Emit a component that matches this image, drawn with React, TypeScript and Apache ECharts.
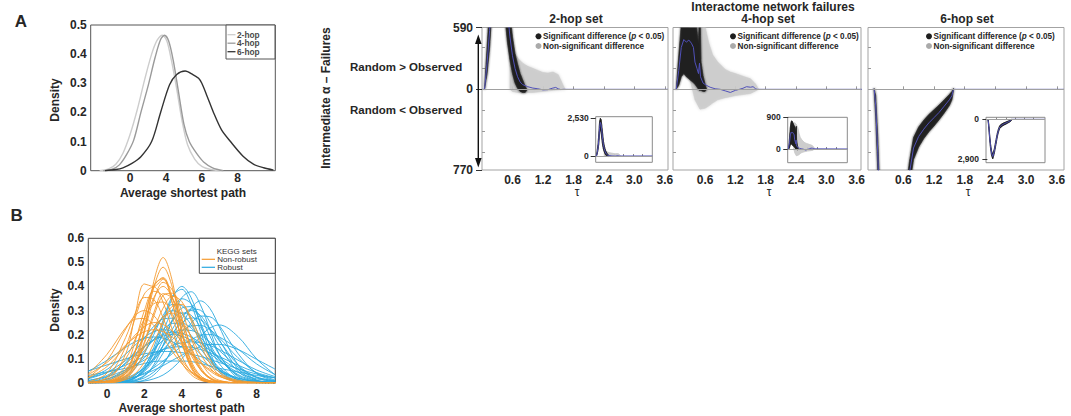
import React, { useEffect, useRef } from 'react';
import * as echarts from 'echarts';

const FONT = '"Liberation Sans", Arial, Helvetica, sans-serif';
const INK = '#262626';

// ---------- Panel A: average shortest path density per hop set ----------
const twoHopDensity = [
  [0.3, 0], [0.8, 0.006], [1.2, 0.022], [1.6, 0.06], [2.0, 0.125], [2.4, 0.21], [2.8, 0.31],
  [3.2, 0.4], [3.5, 0.447], [3.8, 0.465], [4.05, 0.445], [4.3, 0.38], [4.6, 0.28], [4.9, 0.17],
  [5.2, 0.09], [5.6, 0.04], [6.0, 0.015], [6.5, 0.004], [7.0, 0],
];
const fourHopDensity = [
  [0.5, 0], [1.0, 0.005], [1.4, 0.02], [1.8, 0.055], [2.2, 0.105], [2.6, 0.2], [3.0, 0.29],
  [3.4, 0.39], [3.7, 0.45], [3.92, 0.465], [4.15, 0.445], [4.4, 0.38], [4.7, 0.27], [5.0, 0.16],
  [5.3, 0.1], [5.7, 0.06], [6.1, 0.03], [6.6, 0.01], [7.2, 0],
];
const sixHopDensity = [
  [0.6, 0], [1.2, 0.004], [1.6, 0.01], [2.1, 0.025], [2.6, 0.048], [3.2, 0.1], [3.7, 0.2],
  [4.2, 0.295], [4.6, 0.33], [5.07, 0.342], [5.5, 0.33], [5.82, 0.317], [6.0, 0.3], [6.3, 0.255],
  [6.65, 0.2], [7.1, 0.14], [7.6, 0.1], [8.3, 0.05], [8.9, 0.022], [9.45, 0.01], [10.0, 0.002],
];
const hopNames = ['2-hop', '4-hop', '6-hop'];
const hopColors = ['#cdcdcd', '#9a9a9a', '#333333'];
const aXTickValues = [2, 4, 6, 8];
const aXTickLabels = ['0', '4', '6', '8'];

// ---------- Panel B: KEGG set densities, sampled at these path lengths ----------
const pathPoints = [-1, 0, 1, 1.5, 2, 2.5, 3, 3.5, 4, 4.5, 5, 5.5, 6, 7, 8, 9];
const nonRobustSets = [
  [0, 0, .015, .07, .21, .42, .52, .42, .21, .07, .015, .002, 0, 0, 0, 0],
  [0, .001, .021, .083, .22, .395, .48, .395, .22, .083, .021, .004, 0, 0, 0, 0],
  [0, .002, .048, .131, .267, .399, .437, .352, .209, .091, .029, .007, .001, 0, 0, 0],
  [0, .01, .12, .28, .41, .40, .43, .33, .17, .06, .015, .003, 0, 0, 0, 0],
  [.001, .022, .15, .267, .369, .398, .334, .218, .111, .044, .014, .003, .001, 0, 0, 0],
  [0, .002, .027, .075, .163, .276, .363, .372, .298, .185, .09, .034, .01, 0, 0, 0],
  [0, .002, .022, .058, .125, .218, .31, .359, .337, .257, .16, .081, .033, .003, 0, 0],
  [.021, .092, .223, .279, .30, .279, .223, .154, .092, .047, .021, .008, .003, 0, 0, 0],
  [.001, .018, .10, .18, .267, .328, .335, .283, .197, .114, .054, .022, .007, 0, 0, 0],
  [0, .002, .037, .102, .215, .344, .417, .384, .268, .142, .057, .017, .004, 0, 0, 0],
  [.02, .067, .152, .198, .233, .25, .242, .214, .171, .124, .081, .049, .026, .006, .001, 0],
  [0, .005, .039, .083, .147, .219, .274, .289, .256, .191, .119, .063, .028, .003, 0, 0],
  [.003, .04, .188, .288, .354, .346, .269, .167, .083, .033, .01, .003, .001, 0, 0, 0],
  [0, .004, .054, .13, .243, .353, .40, .353, .243, .13, .054, .018, .004, 0, 0, 0],
  [.036, .118, .229, .264, .267, .238, .187, .129, .079, .042, .02, .008, .003, 0, 0, 0],
  [0, .001, .013, .037, .086, .164, .253, .318, .325, .27, .182, .10, .045, .005, 0, 0],
  [0, .002, .041, .125, .267, .404, .433, .328, .176, .067, .018, .003, 0, 0, 0, 0],
  [.033, .084, .156, .189, .212, .22, .212, .189, .156, .119, .084, .055, .033, .01, .002, 0],
  [0, .006, .07, .17, .30, .38, .36, .27, .16, .075, .028, .008, .002, 0, 0, 0],
  [0, .003, .03, .08, .17, .29, .37, .35, .26, .15, .065, .02, .005, 0, 0, 0],
];
const robustSets = [
  [0, 0, .004, .018, .054, .13, .243, .353, .40, .353, .243, .13, .054, .004, 0, 0],
  [0, 0, .002, .008, .028, .074, .156, .263, .353, .378, .323, .22, .119, .018, .001, 0],
  [0, 0, .001, .003, .011, .032, .075, .145, .233, .309, .34, .309, .233, .075, .011, .001],
  [0, .001, .008, .021, .047, .092, .154, .223, .279, .30, .279, .223, .154, .047, .008, .001],
  [.003, .015, .054, .089, .133, .18, .221, .246, .248, .227, .189, .142, .097, .034, .008, .001],
  [.003, .015, .045, .072, .104, .141, .176, .204, .219, .217, .199, .169, .134, .066, .024, .006],
  [.016, .043, .092, .121, .151, .176, .194, .20, .194, .176, .151, .121, .092, .043, .016, .005],
  [.001, .005, .02, .036, .062, .096, .137, .179, .215, .236, .238, .221, .187, .104, .041, .011],
  [0, 0, .001, .003, .007, .016, .032, .06, .099, .146, .192, .227, .24, .192, .099, .032],
  [.03, .045, .06, .07, .08, .088, .09, .09, .09, .088, .08, .07, .06, .045, .03, .02],
  [.02, .042, .073, .091, .109, .125, .138, .147, .15, .147, .138, .125, .109, .073, .042, .02],
  [.049, .074, .099, .111, .12, .126, .13, .129, .125, .118, .109, .097, .084, .058, .036, .02],
  [0, .001, .007, .021, .051, .104, .178, .256, .31, .316, .27, .194, .117, .026, .003, 0],
  [0, 0, .006, .022, .064, .146, .26, .36, .388, .326, .213, .108, .043, .003, 0, 0],
  [0, .002, .015, .032, .06, .101, .153, .206, .249, .269, .261, .225, .175, .075, .021, .004],
  [.001, .004, .014, .024, .04, .062, .09, .121, .152, .179, .196, .20, .19, .14, .078, .033],
  [.001, .009, .047, .089, .149, .215, .272, .299, .287, .24, .175, .112, .062, .013, .001, 0],
  [.047, .093, .147, .17, .185, .19, .185, .17, .147, .121, .093, .069, .047, .019, .006, .002],
  [0, .001, .007, .021, .056, .121, .212, .302, .349, .328, .25, .156, .079, .011, .001, 0],
  [0, .001, .003, .008, .02, .044, .081, .134, .194, .247, .277, .274, .238, .122, .038, .007],
  [.019, .055, .119, .156, .189, .212, .22, .212, .189, .156, .119, .084, .055, .019, .005, .001],
  [.01, .025, .053, .073, .094, .116, .138, .155, .166, .17, .166, .155, .138, .094, .053, .025],
  [0, .003, .026, .061, .121, .2, .279, .325, .32, .264, .183, .107, .052, .008, .001, 0],
  [.001, .005, .015, .024, .036, .052, .071, .093, .114, .134, .15, .159, .159, .138, .097, .056],
  [0, .001, .004, .012, .03, .066, .123, .196, .265, .306, .301, .253, .18, .057, .01, .001],
  [.004, .024, .083, .131, .185, .234, .265, .268, .242, .196, .142, .092, .053, .013, .002, 0],
  [.008, .03, .08, .115, .15, .18, .2, .21, .205, .19, .165, .135, .105, .055, .022, .008],
  [0, .002, .012, .03, .07, .13, .2, .26, .29, .28, .23, .16, .1, .03, .005, 0],
];
const bXTickValues = [0, 2, 4, 6, 8];
const nonRobustColor = '#f59a2e';
const robustColor = '#2aa9e0';

// ---------- Interactome failures: mean curve [tau, value], bands [tau, low, high] ----------
const tauTicks = [0.6, 1.2, 1.8, 2.4, 3.0, 3.6];
const mainYTicks = [-770, 0, 590];
const innerYTicks = [-600, -400, -200, 200, 400];

const twoHopMean = [
  [0, 0], [0.05, 0], [0.1, 250], [0.15, 560], [0.2, 1100], [0.25, 1900], [0.3, 2250], [0.35, 2100],
  [0.4, 1600], [0.45, 1100], [0.5, 750], [0.55, 500], [0.6, 320], [0.65, 200], [0.7, 120],
  [0.75, 70], [0.8, 45], [0.9, 25], [1.0, 12], [1.1, 5], [1.2, -5], [1.3, -3], [1.38, 10],
  [1.45, 18], [1.5, 5], [1.55, -2], [1.6, 0], [3.66, 0],
];
const twoHopSig = [
  [0.05, 0, 0], [0.1, 150, 400], [0.15, 400, 800], [0.2, 800, 1500], [0.25, 1500, 2300],
  [0.3, 1800, 2530], [0.35, 1600, 2450], [0.4, 1100, 2000], [0.45, 700, 1500], [0.5, 450, 1000],
  [0.55, 280, 720], [0.6, 150, 500], [0.65, 60, 340], [0.7, 10, 240], [0.75, -20, 150],
  [0.8, -30, 90], [0.85, -30, 30], [0.88, -10, 0],
];
const twoHopNonSig = [
  [0.55, 0, 300], [0.6, -20, 380], [0.7, -30, 300], [0.8, -35, 250], [0.9, -30, 220],
  [1.0, -30, 200], [1.1, -25, 180], [1.2, -20, 160], [1.3, -15, 155], [1.4, -10, 165],
  [1.5, -5, 140], [1.55, -3, 90], [1.6, 0, 35], [1.64, 0, 0],
];

const fourHopMean = [
  [0, 0], [0.03, 0], [0.08, 180], [0.13, 400], [0.18, 475], [0.23, 450], [0.28, 470], [0.33, 440],
  [0.37, 400], [0.4, 260], [0.44, 200], [0.47, 150], [0.49, 250], [0.51, 120], [0.56, 60],
  [0.62, 40], [0.7, 20], [0.8, 5], [0.9, 0], [1.0, -15], [1.1, -30], [1.2, -10], [1.28, 0],
  [1.35, 10], [1.42, 25], [1.5, 20], [1.55, 25], [1.6, 5], [1.63, 0], [3.7, 0],
];
const fourHopSig = [
  [0.03, 0, 0], [0.08, 40, 320], [0.13, 120, 620], [0.18, 150, 780], [0.23, 120, 800],
  [0.28, 100, 760], [0.33, 80, 700], [0.38, 60, 650], [0.43, 30, 600], [0.47, 0, 420],
  [0.485, -10, 640], [0.505, -10, 640], [0.52, -10, 260], [0.56, -20, 130], [0.6, -20, 50],
  [0.63, 0, 0],
];
const fourHopNonSig = [
  [0.3, 100, 650], [0.4, -100, 750], [0.5, -190, 700], [0.6, -180, 600], [0.67, -160, 450],
  [0.75, -130, 330], [0.85, -100, 260], [1.0, -80, 190], [1.1, -70, 165], [1.2, -60, 150],
  [1.35, -50, 125], [1.5, -40, 100], [1.6, -15, 50], [1.66, 0, 0],
];

const sixHopMean = [
  [0, 0], [0.03, 0], [0.06, -150], [0.1, -600], [0.15, -1300], [0.2, -1900], [0.27, -2450],
  [0.35, -2700], [0.45, -2300], [0.55, -1700], [0.65, -1100], [0.72, -800], [0.8, -560],
  [0.9, -450], [1.0, -380], [1.1, -320], [1.2, -270], [1.3, -220], [1.4, -160], [1.5, -100],
  [1.55, -60], [1.58, 0], [3.74, 0],
];
const sixHopSig = [
  [0.03, -10, 10], [0.06, -260, -60], [0.1, -760, -450], [0.15, -1470, -1140], [0.2, -2070, -1740],
  [0.27, -2620, -2290], [0.35, -2870, -2540], [0.45, -2470, -2140], [0.55, -1860, -1540],
  [0.65, -1240, -970], [0.72, -920, -690], [0.8, -670, -460], [0.9, -550, -360], [1.0, -470, -295],
  [1.1, -405, -240], [1.2, -350, -195], [1.3, -290, -150], [1.4, -225, -100], [1.5, -155, -50],
  [1.55, -100, -20], [1.58, -10, 10],
];
const sixHopNonSig: number[][] = [];

const failurePanels = [
  {
    title: '2-hop set', mean: twoHopMean, sig: twoHopSig, nonSig: twoHopNonSig,
    left: 482, width: 186, xMin: 0, xMax: 3.66, dotX: 538.5,
    inset: { left: 595.7, top: 116.7, width: 56.6, height: 45.6 }, insetMin: -423, insetMax: 2637,
    insetTicks: [0, 2530],
  },
  {
    title: '4-hop set', mean: fourHopMean, sig: fourHopSig, nonSig: fourHopNonSig,
    left: 673, width: 188, xMin: -0.034, xMax: 3.685, dotX: 733,
    inset: { left: 787.7, top: 117.3, width: 59.6, height: 45.4 }, insetMin: -389, insetMax: 900,
    insetTicks: [0, 900],
  },
  {
    title: '6-hop set', mean: sixHopMean, sig: sixHopSig, nonSig: sixHopNonSig,
    left: 868, width: 196, xMin: -0.09, xMax: 3.74, dotX: 929,
    inset: { left: 986, top: 117.3, width: 59, height: 45.4 }, insetMin: -3146, insetMax: 145,
    insetTicks: [-2900, 0],
  },
];
const MAIN_TOP = 27.5;
const MAIN_HEIGHT = 142.5;
const MAIN_MIN = -770;
const MAIN_MAX = 590;

const withCommas = (v: number) => String(Math.abs(v)).replace(/\B(?=(\d{3})+(?!\d))/g, ',');

const tickFont = { fontFamily: FONT, fontWeight: 'bold', fontSize: 12, color: INK };

function bandSeries(band: number[][], xIdx: number, yIdx: number, color: string, opacity: number, blur: number) {
  return {
    type: 'custom',
    xAxisIndex: xIdx,
    yAxisIndex: yIdx,
    clip: true,
    silent: true,
    z: 2,
    data: [[band.length ? band[0][0] : 0, 0]],
    renderItem: (_params: any, api: any) => {
      if (!band.length) return null;
      const pts: number[][] = [];
      band.forEach((p) => pts.push(api.coord([p[0], p[2]])));
      for (let i = band.length - 1; i >= 0; i--) pts.push(api.coord([band[i][0], band[i][1]]));
      return {
        type: 'polygon',
        shape: { points: pts },
        style: {
          fill: color, opacity, stroke: color, lineWidth: 0.6,
          shadowBlur: blur, shadowColor: color,
        },
      };
    },
  };
}

function meanSeries(mean: number[][], xIdx: number, yIdx: number) {
  return {
    type: 'line',
    xAxisIndex: xIdx,
    yAxisIndex: yIdx,
    data: mean,
    showSymbol: false,
    symbol: 'none',
    clip: true,
    silent: true,
    z: 4,
    lineStyle: { color: '#5050b8', width: 1 },
    markLine: {
      silent: true,
      symbol: ['none', 'none'],
      label: { show: false },
      lineStyle: { color: '#a0a0a0', width: 1, type: 'solid' },
      data: [{ yAxis: 0 }],
    },
  };
}

function buildOption() {
  const grids: any[] = [
    { left: 90.7, top: 25, width: 184.6, height: 145.7, show: true, borderColor: '#555', borderWidth: 1 },
    { left: 88.3, top: 238.3, width: 187, height: 144.4, show: true, borderColor: '#444', borderWidth: 1 },
  ];
  const xAxes: any[] = [
    {
      type: 'value', gridIndex: 0, min: -0.2, max: 10.1,
      axisLine: { show: false }, splitLine: { show: false },
      axisTick: { show: false },
      axisLabel: {
        ...tickFont, margin: 1, customValues: aXTickValues,
        formatter: (v: number) => aXTickLabels[aXTickValues.indexOf(v)] ?? '',
      },
    },
    {
      type: 'value', gridIndex: 1, min: -1, max: 9,
      axisLine: { show: false }, splitLine: { show: false },
      axisTick: { show: false },
      axisLabel: { ...tickFont, margin: 5, customValues: bXTickValues },
    },
  ];
  const yAxes: any[] = [
    {
      type: 'value', gridIndex: 0, min: 0, max: 0.5, interval: 0.1,
      axisLine: { show: false }, splitLine: { show: false }, axisTick: { show: false },
      axisLabel: { ...tickFont, margin: 4 },
    },
    {
      type: 'value', gridIndex: 1, min: 0, max: 0.6, interval: 0.1,
      axisLine: { show: false }, splitLine: { show: false }, axisTick: { show: false },
      axisLabel: { ...tickFont, margin: 4 },
    },
  ];
  const series: any[] = [];

  // Panel A curves
  [twoHopDensity, fourHopDensity, sixHopDensity].forEach((d, i) => {
    series.push({
      type: 'line', name: hopNames[i], xAxisIndex: 0, yAxisIndex: 0, data: d,
      smooth: 0.3, showSymbol: false, symbol: 'none', silent: true,
      lineStyle: { color: hopColors[i], width: 1.4 },
    });
  });

  // Panel B curves
  robustSets.forEach((vals, i) => {
    series.push({
      type: 'line', name: 'Robust ' + (i + 1), xAxisIndex: 1, yAxisIndex: 1,
      data: pathPoints.map((x, j) => [x, vals[j]]),
      smooth: 0.35, showSymbol: false, symbol: 'none', silent: true,
      lineStyle: { color: robustColor, width: 0.9 },
    });
  });
  nonRobustSets.forEach((vals, i) => {
    series.push({
      type: 'line', name: 'Non-robust ' + (i + 1), xAxisIndex: 1, yAxisIndex: 1,
      data: pathPoints.map((x, j) => [x, vals[j]]),
      smooth: 0.35, showSymbol: false, symbol: 'none', silent: true,
      lineStyle: { color: nonRobustColor, width: 0.9 },
    });
  });

  // Failure panels: main grids, then insets
  failurePanels.forEach((p, k) => {
    const gMain = grids.length;
    grids.push({
      left: p.left, top: MAIN_TOP, width: p.width, height: MAIN_HEIGHT,
      show: true, borderColor: '#a3a3a3', borderWidth: 1,
    });
    xAxes.push({
      type: 'value', gridIndex: gMain, min: p.xMin, max: p.xMax,
      axisLine: { show: false }, splitLine: { show: false },
      axisTick: { show: true, inside: true, length: 3, customValues: tauTicks, lineStyle: { color: '#999' } },
      axisLabel: { ...tickFont, margin: 4, customValues: tauTicks, formatter: (v: number) => v.toFixed(1) },
    });
    const yMainIdx = yAxes.length;
    yAxes.push({
      type: 'value', gridIndex: gMain, min: MAIN_MIN, max: MAIN_MAX, position: 'left',
      axisLine: { show: false }, splitLine: { show: false },
      axisTick: {
        show: k === 0, inside: false, length: 6, customValues: mainYTicks,
        lineStyle: { color: '#333', width: 1 },
      },
      axisLabel: {
        show: k === 0, ...tickFont, margin: 9, customValues: mainYTicks,
        formatter: (v: number) => withCommas(v),
      },
    });
    yAxes.push({
      type: 'value', gridIndex: gMain, min: MAIN_MIN, max: MAIN_MAX, position: 'left',
      axisLine: { show: false }, splitLine: { show: false },
      axisTick: { show: true, inside: true, length: 3, customValues: innerYTicks, lineStyle: { color: '#999' } },
      axisLabel: { show: false },
    });
    const xMainIdx = xAxes.length - 1;
    series.push(bandSeries(p.nonSig, xMainIdx, yMainIdx, '#c9c9c9', 0.75, 3));
    series.push(bandSeries(p.sig, xMainIdx, yMainIdx, '#1e1e1e', 0.88, 2));
    series.push(meanSeries(p.mean, xMainIdx, yMainIdx));
  });

  failurePanels.forEach((p) => {
    const gIns = grids.length;
    grids.push({
      ...p.inset, show: true, borderColor: '#8a8a8a', borderWidth: 1, backgroundColor: '#fff',
    });
    xAxes.push({
      type: 'value', gridIndex: gIns, min: p.xMin, max: p.xMax,
      axisLine: { show: false }, splitLine: { show: false },
      axisTick: { show: true, inside: true, length: 2, customValues: tauTicks.slice(0, 5), lineStyle: { color: '#888' } },
      axisLabel: { show: false },
    });
    yAxes.push({
      type: 'value', gridIndex: gIns, min: p.insetMin, max: p.insetMax,
      axisLine: { show: false }, splitLine: { show: false },
      axisTick: { show: true, inside: false, length: 5, customValues: p.insetTicks, lineStyle: { color: '#333' } },
      axisLabel: {
        fontFamily: FONT, fontWeight: 'bold', fontSize: 8.5, color: INK, margin: 7,
        customValues: p.insetTicks, formatter: (v: number) => withCommas(v),
      },
    });
    const xi = xAxes.length - 1;
    const yi = yAxes.length - 1;
    series.push(bandSeries(p.nonSig, xi, yi, '#c9c9c9', 0.75, 1));
    series.push(bandSeries(p.sig, xi, yi, '#1e1e1e', 0.88, 1));
    series.push(meanSeries(p.mean, xi, yi));
  });

  const txt = (text: string, x: number, y: number, opts: any = {}) => ({
    type: 'text', x, y, z: 20, silent: true, rotation: opts.rotation ?? 0,
    style: {
      text,
      fontFamily: FONT,
      fontSize: opts.size ?? 12,
      fontWeight: opts.weight ?? 'bold',
      fontStyle: opts.style ?? 'normal',
      lineHeight: opts.lineHeight ?? undefined,
      fill: opts.color ?? INK,
      align: opts.align ?? 'center',
      textAlign: opts.align ?? 'center',
      verticalAlign: 'middle',
      textVerticalAlign: 'middle',
    },
  });

  const graphic: any[] = [
    txt('A', 20.8, 21.7, { size: 17 }),
    txt('B', 16.7, 215, { size: 17 }),
    txt('Density', 55, 100, { rotation: Math.PI / 2 }),
    txt('Density', 55, 310, { rotation: Math.PI / 2 }),
    txt('Average shortest path', 183, 192.7),
    txt('Average shortest path', 181.7, 408.3),
    // panel A legend
    { type: 'rect', z: 15, silent: true, shape: { x: 226, y: 25, width: 49, height: 34 }, style: { fill: '#fff', stroke: '#555', lineWidth: 1 } },
    // panel B legend
    { type: 'rect', z: 15, silent: true, shape: { x: 199.3, y: 238.3, width: 76, height: 35 }, style: { fill: '#fff', stroke: '#444', lineWidth: 1 } },
    txt('KEGG sets', 216.7, 251.3, { size: 8, weight: 'normal', align: 'left', color: '#333', lineHeight: 7.5 }),
    { type: 'line', z: 20, silent: true, shape: { x1: 201.7, y1: 259.3, x2: 215, y2: 259.3 }, style: { stroke: nonRobustColor, lineWidth: 1.2 } },
    txt('Non-robust', 217.3, 259.3, { size: 8, weight: 'normal', align: 'left', color: '#333', lineHeight: 7.5 }),
    { type: 'line', z: 20, silent: true, shape: { x1: 201.7, y1: 267.3, x2: 215, y2: 267.3 }, style: { stroke: robustColor, lineWidth: 1.2 } },
    txt('Robust', 217.3, 267.3, { size: 8, weight: 'normal', align: 'left', color: '#333', lineHeight: 7.5 }),
    // failure panels: shared labels
    txt('Interactome network failures', 773, 6.5),
    txt('Intermediate \u03b1 \u2013 Failures', 326, 98, { rotation: Math.PI / 2 }),
    txt('Random > Observed', 350, 66.7, { size: 11.5, align: 'left' }),
    txt('Random < Observed', 350, 110, { size: 11.5, align: 'left' }),
    { type: 'line', z: 20, silent: true, shape: { x1: 478.3, y1: 42, x2: 478.3, y2: 160 }, style: { stroke: '#111', lineWidth: 1.4 } },
    { type: 'polygon', z: 20, silent: true, shape: { points: [[478.3, 34.5], [475, 44], [481.6, 44]] }, style: { fill: '#111' } },
    { type: 'polygon', z: 20, silent: true, shape: { points: [[478.3, 167.5], [475, 158], [481.6, 158]] }, style: { fill: '#111' } },
  ];

  const legendY = [34.7, 43.2, 51.7];
  hopNames.forEach((n, i) => {
    graphic.push({ type: 'line', z: 20, silent: true, shape: { x1: 227.5, y1: legendY[i], x2: 235.5, y2: legendY[i] }, style: { stroke: hopColors[i], lineWidth: 1.3 } });
    graphic.push(txt(n, 237, legendY[i], { size: 8.3, align: 'left', color: '#4a4a4a', lineHeight: 8 }));
  });

  const legendRich = {
    a: { fontFamily: FONT, fontSize: 8.2, fontWeight: 'bold', fill: INK, color: INK, lineHeight: 8.5 },
    i: { fontFamily: FONT, fontSize: 8.2, fontWeight: 'bold', fontStyle: 'italic', fill: INK, color: INK, lineHeight: 8.5 },
  };
  failurePanels.forEach((p) => {
    const cx = p.left + p.width / 2;
    graphic.push(txt(p.title, cx + 1, 18.5));
    graphic.push(txt('\u03c4', cx + 2, 192, { size: 12, weight: 'normal' }));
    graphic.push({ type: 'circle', z: 20, silent: true, shape: { cx: p.dotX, cy: 36.3, r: 3 }, style: { fill: '#1e1e1e' } });
    graphic.push({ type: 'circle', z: 20, silent: true, shape: { cx: p.dotX, cy: 46, r: 3 }, style: { fill: '#aaaaaa' } });
    graphic.push({
      type: 'text', z: 20, silent: true, x: p.dotX + 4.5, y: 36.3,
      style: {
        text: '{a|Significant difference (}{i|p}{a| < 0.05)}', rich: legendRich, lineHeight: 8.5,
        align: 'left', textAlign: 'left', verticalAlign: 'middle', textVerticalAlign: 'middle',
      },
    });
    graphic.push({
      type: 'text', z: 20, silent: true, x: p.dotX + 4.5, y: 46,
      style: {
        text: 'Non-significant difference', fontFamily: FONT, fontSize: 8.2, fontWeight: 'bold', fill: INK,
        lineHeight: 8.5, align: 'left', textAlign: 'left', verticalAlign: 'middle', textVerticalAlign: 'middle',
      },
    });
  });

  return {
    animation: false,
    backgroundColor: '#ffffff',
    textStyle: { fontFamily: FONT },
    grid: grids,
    xAxis: xAxes,
    yAxis: yAxes,
    series,
    graphic: { elements: graphic },
  };
}

export default function App() {
  const ref = useRef<HTMLDivElement>(null);
  useEffect(() => {
    if (!ref.current) return;
    const chart = echarts.init(ref.current, undefined, { renderer: 'svg' });
    chart.setOption(buildOption() as any);
    return () => chart.dispose();
  }, []);
  return (
    <div
      ref={ref}
      style={{ position: 'fixed', left: 0, top: 0, width: 1071, height: 416, background: '#fff' }}
    />
  );
}
